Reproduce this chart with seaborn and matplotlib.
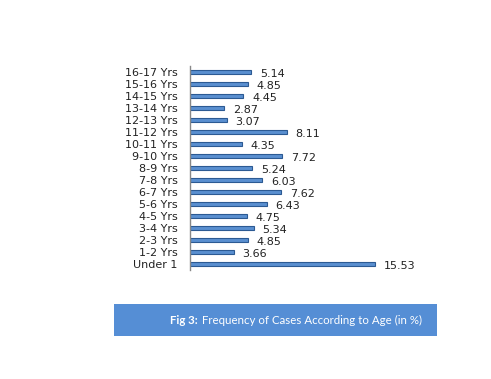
import matplotlib.pyplot as plt
import matplotlib.patches as patches
import seaborn as sns
import pandas as pd

# dados (de cima para baixo)
faixas = ["16-17 Yrs", "15-16 Yrs", "14-15 Yrs", "13-14 Yrs", "12-13 Yrs",
          "11-12 Yrs", "10-11 Yrs", "9-10 Yrs", "8-9 Yrs", "7-8 Yrs",
          "6-7 Yrs", "5-6 Yrs", "4-5 Yrs", "3-4 Yrs", "2-3 Yrs",
          "1-2 Yrs", "Under 1"]
valores = [5.14, 4.85, 4.45, 2.87, 3.07, 8.11, 4.35, 7.72, 5.24, 6.03,
           7.62, 6.43, 4.75, 5.34, 4.85, 3.66, 15.53]
prefixo = "Fig 3:"
legenda = "Frequency of Cases According to Age (in %)"

df = pd.DataFrame({"faixa": faixas, "valor": valores})

sns.set_theme(style="white")
fig = plt.figure(figsize=(4.91, 3.79), dpi=100)
ax = fig.add_axes([0.387, 0.2876, 0.41, 0.5384])

sns.barplot(data=df, y="faixa", x="valor", orient="h", ax=ax,
            color="#5A8FD0", edgecolor="#2C5A93", linewidth=0.8,
            width=0.38, saturation=1)

for i, v in enumerate(valores):
    ax.text(v + 0.75, i + 0.15, f"{v:.2f}", va="center", ha="left",
            fontsize=8, color="#222222")

ax.set_xlim(0, 16.9)
ax.set_ylim(16.5, -0.5)
ax.set_xlabel("")
ax.set_ylabel("")
ax.set_xticks([])
ax.tick_params(axis="y", length=0, pad=9, labelsize=8, labelcolor="#222222")
for lado in ["top", "right", "bottom"]:
    ax.spines[lado].set_visible(False)
ax.spines["left"].set_color("#888888")
ax.spines["left"].set_linewidth(1)

# caixa da legenda da figura
caixa = patches.Rectangle((114 / 491, 1 - 336 / 379), 323 / 491, 32 / 379,
                          transform=fig.transFigure, facecolor="#558ED5",
                          edgecolor="none")
fig.patches.append(caixa)
t1 = fig.text(170 / 491, 1 - 320 / 379, prefixo + " ", color="white",
              fontsize=8.3, fontweight="bold", family="Lato",
              va="center", ha="left")
fig.canvas.draw()
bb = t1.get_window_extent(renderer=fig.canvas.get_renderer())
fig.text(bb.x1 / fig.bbox.width + 2 / 491, 1 - 320 / 379, legenda,
         color="white", fontsize=8.3, family="Lato", va="center", ha="left")

fig.savefig("out.png", dpi=100, facecolor="white")
